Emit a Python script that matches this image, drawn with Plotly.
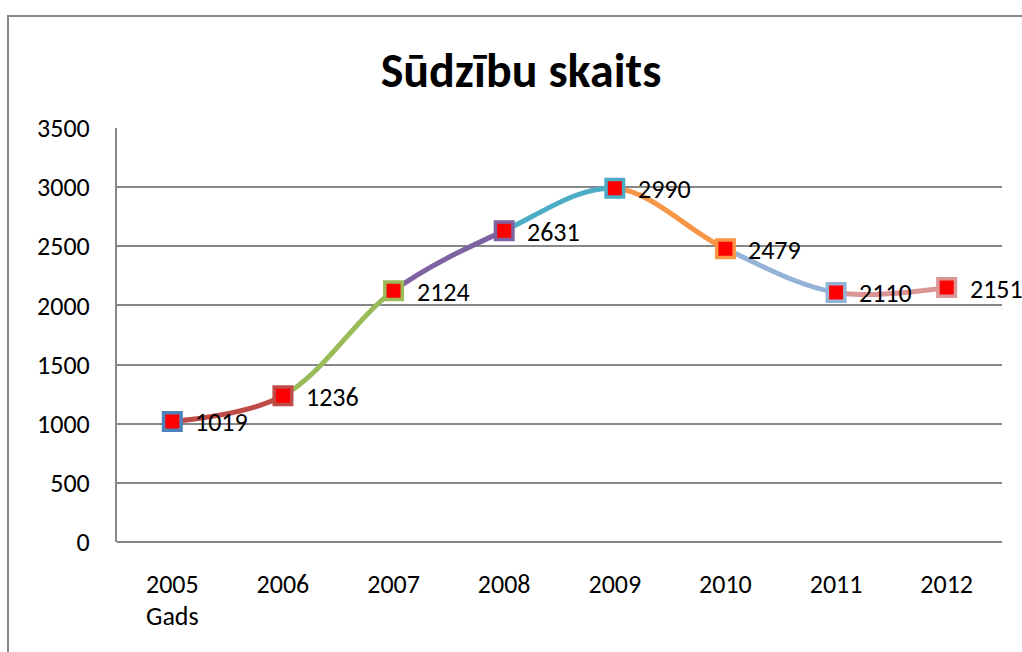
import plotly.graph_objects as go

years = ["2005", "2006", "2007", "2008", "2009", "2010", "2011", "2012"]
complaints = [1019, 1236, 2124, 2631, 2990, 2479, 2110, 2151]
point_colors = ["#4F81BD", "#BE4B48", "#9BBB59", "#7F62A1", "#4BACC6", "#F79646", "#95B3D7", "#D99694"]

xs = list(range(len(years)))
n = len(years)
font_family = "Carlito, Lato, Calibri, sans-serif"
grid = "#878787"

fig = go.Figure()

# one clipped copy of the smooth line per segment, so each piece gets its own colour
for i in range(n - 1):
    ax = "x%d" % (i + 2)
    fig.add_trace(go.Scatter(
        x=xs, y=complaints, mode="lines", xaxis=ax, yaxis="y2",
        line=dict(color=point_colors[i + 1], width=5, shape="spline", smoothing=1, simplify=False),
        hoverinfo="skip", showlegend=False,
    ))
    fig.layout[ax.replace("x", "xaxis")] = dict(
        domain=[(i + 0.5) / n, (i + 1.5) / n], range=[i, i + 1],
        anchor="y2", visible=False, fixedrange=True,
    )

# markers on a full-width axis drawn after the line pieces
fig.add_trace(go.Scatter(
    x=xs, y=complaints, mode="markers", xaxis="x9", yaxis="y2",
    marker=dict(symbol="square", size=17.5, color="#FF0000",
                line=dict(color=point_colors, width=3.5)),
    cliponaxis=False, showlegend=False,
))

# data labels to the right of each point
for x, v in zip(xs, complaints):
    fig.add_annotation(text=str(v), x=x, y=v, xref="x9", yref="y2",
                       xanchor="left", yanchor="middle", xshift=21, yshift=-1,
                       showarrow=False, font=dict(family=font_family, size=26, color="black"))

# chart-area frame (only its left and top edges fall inside the picture)
fig.add_shape(type="rect", xref="paper", yref="paper",
              x0=-109 / 885, x1=1040 / 885, y0=-140 / 414, y1=526 / 414,
              line=dict(color=grid, width=2), layer="below")

fig.add_annotation(text="Gads", x=0, y=-74 / 414, xref="x", yref="paper",
                   yanchor="middle", xanchor="center", showarrow=False,
                   font=dict(family=font_family, size=26, color="black"))

fig.update_layout(
    width=1022, height=652,
    margin=dict(l=117, r=20, t=128, b=110),
    paper_bgcolor="white", plot_bgcolor="rgba(0,0,0,0)",
    title=dict(text="<b>Sūdzību skaits</b>", x=(521 - 117) / 885, xref="paper", xanchor="center",
               y=1 - 70 / 652, yanchor="middle",
               font=dict(family=font_family, size=48, color="black")),
    font=dict(family=font_family, size=26, color="black"),
    xaxis=dict(range=[-0.5, n - 0.5], tickvals=xs, ticktext=years, showgrid=False,
               showline=False, zeroline=False, ticks="", ticklabelstandoff=24, fixedrange=True),
    xaxis9=dict(range=[-0.5, n - 0.5], domain=[0, 1], anchor="y2", visible=False, fixedrange=True),
    yaxis=dict(range=[0, 3500], dtick=500, showgrid=True, gridcolor=grid, gridwidth=1.5,
               showline=True, linecolor=grid, linewidth=2, zeroline=True, zerolinecolor=grid,
               zerolinewidth=2, ticks="", ticklabelstandoff=20, fixedrange=True),
    yaxis2=dict(range=[0, 3500], domain=[0, 1], anchor="x2", visible=False,
                showgrid=False, zeroline=False, fixedrange=True),
)

fig.write_html("out.html", config={"displayModeBar": False},
               post_script="document.body.style.margin = '0'; document.body.style.overflow = 'hidden';")
